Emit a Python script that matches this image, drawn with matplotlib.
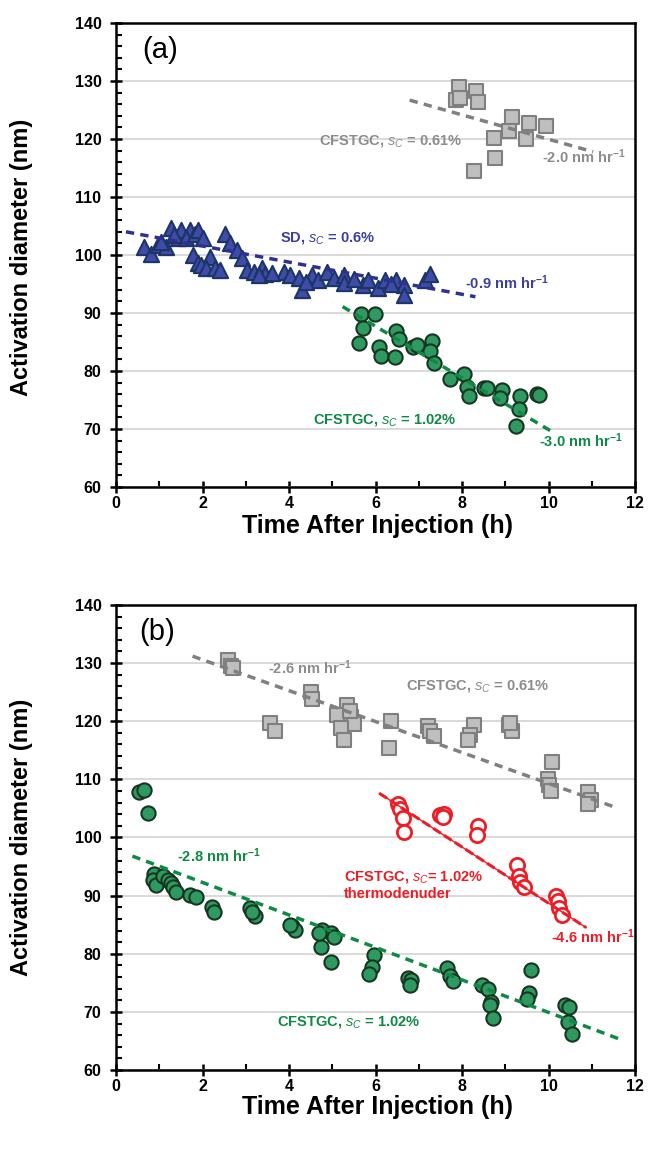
import matplotlib
matplotlib.use("Agg")
import matplotlib.pyplot as plt
from matplotlib.ticker import MultipleLocator

plt.rcParams['font.family'] = ['Liberation Sans', 'DejaVu Sans']
plt.rcParams['mathtext.fontset'] = 'custom'
plt.rcParams['mathtext.rm'] = 'Liberation Sans:bold'
plt.rcParams['mathtext.bf'] = 'Liberation Sans:bold'
plt.rcParams['mathtext.it'] = 'Liberation Sans:italic'

# ---------------- Panel (a) data ----------------
a_gray_t = [7.92, 8.32, 7.86, 7.96, 8.37, 9.15, 9.55, 9.95, 9.08, 8.73, 9.49, 8.77, 8.27]
a_gray_d = [129.0, 128.3, 126.7, 127.1, 126.4, 123.8, 122.7, 122.2, 121.3, 120.2, 120.0, 116.7, 114.4]
a_gray_fit_t = [6.79, 11.03]
a_gray_fit_d = [126.7, 117.8]

a_sd_t = [0.65, 0.81, 0.96, 1.16, 1.27, 1.43, 1.51, 1.70, 1.62, 1.82, 1.90, 2.01, 1.78, 1.90,
          2.17, 1.97, 2.09, 2.28, 2.52, 2.63, 2.79, 2.91, 3.02, 3.18, 3.37, 3.45, 3.88, 4.03,
          4.23, 4.31, 4.54, 4.66, 4.89, 5.04, 5.28, 5.28, 5.70, 5.82, 6.05, 6.21, 6.48, 6.67,
          6.67, 7.14, 7.26, 1.05, 1.35, 2.40, 3.30, 3.60, 4.40, 5.50, 6.35]
a_sd_d = [101.4, 100.2, 101.7, 101.4, 104.6, 102.9, 104.3, 104.3, 102.9, 103.7, 104.3, 102.9,
          100.0, 98.6, 99.7, 98.3, 97.7, 97.7, 103.7, 102.0, 100.9, 99.4, 97.4, 97.1, 97.7,
          96.8, 97.1, 96.6, 96.0, 94.0, 96.6, 95.7, 97.1, 96.0, 96.6, 95.1, 94.8, 95.7, 94.3,
          95.7, 95.7, 94.8, 93.1, 95.7, 96.8, 102.2, 103.5, 97.5, 96.5, 96.9, 95.3, 95.8, 95.0]
a_sd_fit_t = [0.23, 8.31]
a_sd_fit_d = [104.0, 92.8]

a_grn_t = [5.66, 5.98, 5.70, 5.63, 6.48, 6.54, 6.09, 6.13, 6.44, 6.87, 6.95, 7.30, 7.26, 7.36,
           7.72, 8.05, 8.11, 8.17, 8.50, 8.58, 8.93, 8.89, 9.35, 9.32, 9.26, 9.74, 9.78]
a_grn_d = [89.9, 89.8, 87.4, 84.8, 86.9, 85.5, 84.2, 82.6, 82.5, 84.2, 84.4, 85.2, 83.4, 81.4,
           78.6, 79.5, 77.3, 75.7, 77.0, 77.0, 76.7, 75.4, 75.7, 73.4, 70.6, 76.0, 75.9]
a_grn_fit_t = [5.24, 10.09]
a_grn_fit_d = [91.1, 69.5]

# ---------------- Panel (b) data ----------------
b_gray_t = [2.60, 2.67, 2.71, 4.50, 4.54, 3.57, 3.68, 5.34, 5.12, 5.43, 5.51, 5.20, 5.28, 5.40,
            6.36, 6.32, 7.22, 7.26, 7.36, 8.27, 8.19, 8.15, 9.08, 9.16, 9.12, 10.09, 9.98,
            10.00, 10.05, 10.91, 10.99, 10.91]
b_gray_d = [130.6, 129.5, 129.2, 125.1, 123.8, 119.7, 118.4, 122.8, 121.1, 120.8, 119.6, 118.8,
            116.8, 121.7, 120.0, 115.4, 119.2, 118.3, 117.4, 119.4, 117.6, 116.7, 119.3, 118.3,
            119.7, 113.0, 110.0, 109.0, 108.0, 107.8, 106.5, 105.8]
b_gray_fit_t = [1.77, 11.58]
b_gray_fit_d = [131.2, 105.1]

b_grn_t = [0.54, 0.64, 0.73, 0.89, 0.85, 0.93, 1.08, 1.20, 1.27, 1.31, 1.39, 1.70, 1.86, 2.21,
           2.26, 3.10, 3.22, 3.15, 4.07, 4.15, 4.03, 4.77, 4.97, 5.04, 4.73, 4.98, 4.69, 5.97,
           5.91, 5.84, 6.75, 6.83, 6.79, 7.65, 7.73, 7.80, 8.46, 8.60, 8.66, 8.64, 8.71, 9.59,
           9.55, 9.51, 10.37, 10.48, 10.44, 10.54]
b_grn_d = [107.9, 108.2, 104.3, 93.8, 92.7, 91.8, 93.3, 92.7, 92.1, 91.5, 90.7, 90.1, 89.8, 88.1,
           87.1, 87.8, 86.5, 87.2, 84.7, 84.1, 85.0, 84.1, 83.5, 82.9, 81.2, 78.5, 83.6, 79.8,
           77.8, 76.5, 75.8, 75.4, 74.6, 77.6, 76.1, 75.3, 74.6, 74.0, 71.7, 71.1, 68.9, 77.2,
           73.2, 72.3, 71.2, 70.9, 68.3, 66.2]
b_grn_fit_t = [0.38, 11.65]
b_grn_fit_d = [96.8, 65.3]

b_red_t = [6.52, 6.56, 6.64, 6.67, 7.50, 7.58, 7.55, 8.38, 8.35, 9.28, 9.32, 9.35, 9.43,
           10.17, 10.21, 10.25, 10.31]
b_red_d = [105.8, 104.9, 103.3, 100.9, 103.9, 104.1, 103.5, 101.9, 100.4, 95.2, 93.4, 92.3,
           91.4, 90.0, 89.1, 87.9, 86.6]
b_red_fit_t = [6.09, 10.87]
b_red_fit_d = [107.6, 84.5]

x_ticks = [0, 2, 4, 6, 8, 10, 12]
y_ticks = [60, 70, 80, 90, 100, 110, 120, 130, 140]

# ---------------- colours ----------------
GRAY_TXT = '#8c8c8c'
GRAY_LINE = '#808080'
BLUE_TXT = '#3b3f9e'
GREEN = '#0e8a45'
RED = '#ee1c25'

fig = plt.figure(figsize=(6.53, 11.64), dpi=100)
W, H = 653, 1164
ax_a = fig.add_axes([116 / W, 1 - 487 / H, (635 - 116) / W, (487 - 23) / H])
ax_b = fig.add_axes([116 / W, 1 - 1070 / H, (635 - 116) / W, (1070 - 605) / H])

for ax in (ax_a, ax_b):
    ax.set_xlim(0, 12)
    ax.set_ylim(60, 140)
    ax.set_xticks(x_ticks)
    ax.set_yticks(y_ticks)
    ax.xaxis.set_minor_locator(MultipleLocator(1))
    ax.yaxis.set_minor_locator(MultipleLocator(2))
    ax.tick_params(which='major', direction='inout', length=9, width=1.8, labelsize=11.5)
    ax.tick_params(axis='x', which='major', pad=2)
    ax.tick_params(axis='y', which='major', pad=6)
    ax.tick_params(which='minor', direction='in', length=4, width=1.5)
    for lab in ax.get_xticklabels() + ax.get_yticklabels():
        lab.set_fontweight('bold')
    for sp in ax.spines.values():
        sp.set_linewidth(1.8)
    ax.grid(axis='y', which='major', color='#d9d9d9', linewidth=1.4)
    ax.set_axisbelow(True)

MS = 105
dash = (0, (2.4, 1.8))

# Panel (a)
ax_a.scatter(a_gray_t, a_gray_d, marker='s', s=MS, facecolor='#bfbfbf', edgecolor='#7f7f7f', linewidth=1.5, zorder=3)
ax_a.scatter(a_sd_t, a_sd_d, marker='^', s=MS + 15, facecolor='#3e4ba8', edgecolor='#1d3566', linewidth=1.5, zorder=3)
ax_a.scatter(a_grn_t, a_grn_d, marker='o', s=MS, facecolor='#2e9a62', edgecolor='#17361f', linewidth=1.5, zorder=3)
ax_a.plot(a_gray_fit_t, a_gray_fit_d, color=GRAY_LINE, lw=2.5, ls=dash, zorder=4)
ax_a.plot(a_sd_fit_t, a_sd_fit_d, color='#2e3192', lw=2.5, ls=dash, zorder=4)
ax_a.plot(a_grn_fit_t, a_grn_fit_d, color=GREEN, lw=2.5, ls=dash, zorder=4)

tkw = dict(fontsize=10.5, fontweight='bold', ha='left', va='center', zorder=5)
ax_a.text(4.69, 119.7, r'CFSTGC, $s_C$ = 0.61%', color=GRAY_TXT, **tkw)
ax_a.text(9.86, 116.9, r'-2.0 nm hr$^{-1}$', color=GRAY_TXT, **tkw)
ax_a.text(3.80, 102.9, r'SD, $s_C$ = 0.6%', color=BLUE_TXT, **tkw)
ax_a.text(8.07, 95.2, r'-0.9 nm hr$^{-1}$', color=BLUE_TXT, **tkw)
ax_a.text(4.55, 71.6, r'CFSTGC, $s_C$ = 1.02%', color=GREEN, **tkw)
ax_a.text(9.79, 67.9, r'-3.0 nm hr$^{-1}$', color=GREEN, **tkw)
ax_a.text(0.6, 135.3, '(a)', fontsize=21, ha='left', va='center')

# Panel (b)
ax_b.scatter(b_gray_t, b_gray_d, marker='s', s=MS, facecolor='#bfbfbf', edgecolor='#7f7f7f', linewidth=1.5, zorder=3)
ax_b.scatter(b_grn_t, b_grn_d, marker='o', s=MS, facecolor='#2e9a62', edgecolor='#17361f', linewidth=1.5, zorder=3)
ax_b.scatter(b_red_t, b_red_d, marker='o', s=MS, facecolor='white', edgecolor=RED, linewidth=2.0, zorder=3)
ax_b.plot(b_gray_fit_t, b_gray_fit_d, color=GRAY_LINE, lw=2.5, ls=dash, zorder=4)
ax_b.plot(b_grn_fit_t, b_grn_fit_d, color=GREEN, lw=2.5, ls=dash, zorder=4)
ax_b.plot(b_red_fit_t, b_red_fit_d, color=RED, lw=1.0, zorder=4)
ax_b.plot(b_red_fit_t, b_red_fit_d, color=RED, lw=2.2, ls=(0, (3, 1.2)), zorder=4)

ax_b.text(3.52, 129.2, r'-2.6 nm hr$^{-1}$', color=GRAY_TXT, **tkw)
ax_b.text(6.71, 126.1, r'CFSTGC, $s_C$ = 0.61%', color=GRAY_TXT, **tkw)
ax_b.text(1.42, 96.8, r'-2.8 nm hr$^{-1}$', color=GREEN, **tkw)
ax_b.text(5.27, 93.2, r'CFSTGC, $s_C$= 1.02%', color=RED, **tkw)
ax_b.text(5.27, 90.3, 'thermodenuder', color=RED, **tkw)
ax_b.text(10.05, 82.9, r'-4.6 nm hr$^{-1}$', color=RED, **tkw)
ax_b.text(3.73, 68.3, r'CFSTGC, $s_C$ = 1.02%', color=GREEN, **tkw)
ax_b.text(0.54, 135.4, '(b)', fontsize=21, ha='left', va='center')

# axis labels
for yc in (257, 837):
    fig.text(22 / W, 1 - yc / H, 'Activation diameter (nm)', rotation=90, fontsize=17,
             fontweight='bold', ha='center', va='center')
for yc in (526, 1107):
    fig.text(377 / W, 1 - yc / H, 'Time After Injection (h)', fontsize=18,
             fontweight='bold', ha='center', va='center')

fig.savefig('out.png', dpi=100)
